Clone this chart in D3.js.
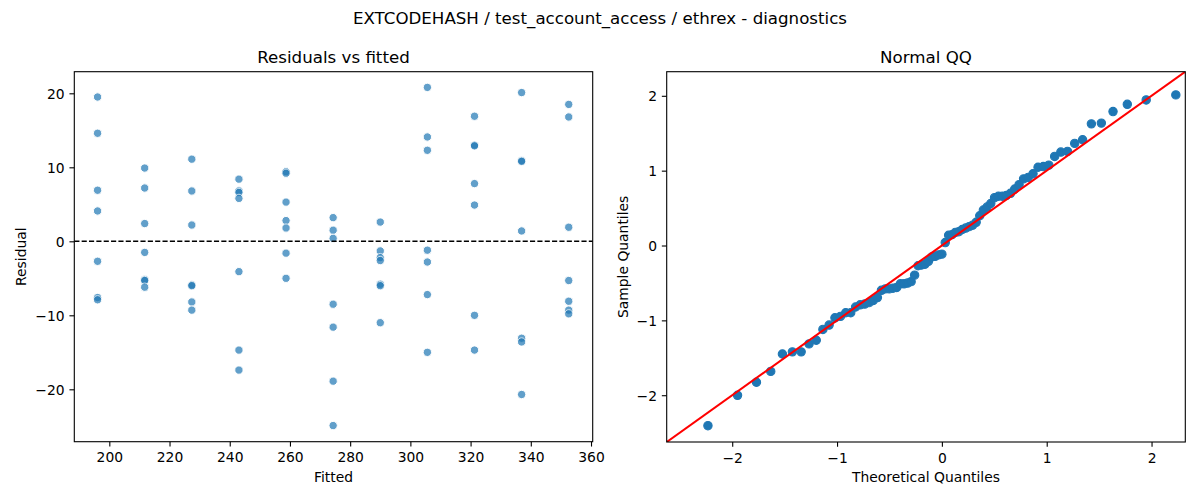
<!DOCTYPE html>
<html>
<head>
<meta charset="utf-8">
<script src="https://cdn.jsdelivr.net/npm/d3@7"></script>
<style>
  html, body { margin: 0; padding: 0; background: #fff; }
  svg { display: block; font-family: "DejaVu Sans", sans-serif; }
</style>
</head>
<body>
<svg id="chart" width="1200" height="500"></svg>
<script>
// ---------------- DATA ----------------
const suptitle = "EXTCODEHASH / test_account_access / ethrex - diagnostics";
const fittedLevels = [196.1, 211.75, 227.4, 243.05, 258.7, 274.35, 290.0, 305.65, 321.3, 336.95, 352.6];
const residualsByLevel = [
  [19.5, 14.6, 6.9, 4.1, -2.7, -7.6, -7.9],
  [9.9, 7.2, 2.4, -1.5, -5.2, -5.3, -6.2],
  [11.1, 6.8, 2.2, -5.9, -6.0, -8.2, -9.3],
  [8.4, 6.8, 6.6, 5.8, -4.1, -14.7, -17.4],
  [9.4, 9.2, 5.3, 2.8, 1.8, -1.6, -5.0],
  [3.2, 1.5, 0.4, -8.5, -11.6, -18.9, -24.9],
  [2.6, -1.3, -2.2, -2.6, -5.8, -6.0, -11.0],
  [20.8, 14.1, 12.3, -1.2, -2.8, -7.2, -15.0],
  [16.9, 13.0, 12.9, 7.8, 4.9, -10.0, -14.7],
  [20.1, 10.9, 10.8, 1.4, -13.1, -13.6, -20.7],
  [18.5, 16.8, 1.9, -5.3, -8.1, -9.3, -9.8]
];
const residXTicks = [200, 220, 240, 260, 280, 300, 320, 340, 360];
const residYTicks = [-20, -10, 0, 10, 20];
const qqTicks = [-2, -1, 0, 1, 2];

// ---------------- LAYOUT ----------------
const svg = d3.select("#chart");
const left = {x0: 74.3, x1: 592.7, y0: 71.7, y1: 441.7};
const right = {x0: 666.7, x1: 1185.3, y0: 71.7, y1: 442.0};
const tickFont = 13.89, titleFont = 16.67;
const blue = "#1f77b4";

svg.append("text").attr("x", 600).attr("y", 24).attr("text-anchor", "middle")
  .attr("font-size", titleFont).text(suptitle);

function drawAxes(g, box, xs, ys, xTicks, yTicks, fmt) {
  const xa = d3.axisBottom(xs).tickValues(xTicks).tickSize(4.86).tickPadding(4.86).tickFormat(fmt);
  const ya = d3.axisLeft(ys).tickValues(yTicks).tickSize(4.86).tickPadding(4.86).tickFormat(fmt);
  const gx = g.append("g").attr("transform", `translate(0,${box.y1})`).call(xa);
  const gy = g.append("g").attr("transform", `translate(${box.x0},0)`).call(ya);
  [gx, gy].forEach(a => {
    a.select(".domain").remove();
    a.selectAll("line").attr("stroke", "#000").attr("stroke-width", 1.1);
    a.selectAll("text").attr("font-size", tickFont).attr("fill", "#000")
      .attr("font-family", "DejaVu Sans, sans-serif");
  });
  gx.selectAll("text").attr("dy", null).attr("y", 20.6);
  gy.selectAll("text").attr("dy", "0.36em");
}

function frame(g, box) {
  g.append("rect").attr("x", box.x0).attr("y", box.y0)
    .attr("width", box.x1 - box.x0).attr("height", box.y1 - box.y0)
    .attr("fill", "none").attr("stroke", "#000").attr("stroke-width", 1.1);
}

// ---------------- LEFT: Residuals vs fitted ----------------
const gl = svg.append("g");
const xL = d3.scaleLinear().domain([188.37, 360.56]).range([left.x0, left.x1]);
const yL = d3.scaleLinear().domain([-27.08, 22.92]).range([left.y1, left.y0]);

const residPoints = [];
fittedLevels.forEach((f, i) => residualsByLevel[i].forEach(r => residPoints.push({f, r})));

gl.append("clipPath").attr("id", "clipL").append("rect")
  .attr("x", left.x0).attr("y", left.y0).attr("width", left.x1 - left.x0).attr("height", left.y1 - left.y0);

gl.append("g").attr("clip-path", "url(#clipL)").selectAll("circle").data(residPoints).join("circle")
  .attr("cx", d => xL(d.f)).attr("cy", d => yL(d.r)).attr("r", 4.17)
  .attr("fill", blue).attr("stroke", "#fff").attr("stroke-width", 1.0).attr("opacity", 0.7);

gl.append("line").attr("x1", left.x0).attr("x2", left.x1)
  .attr("y1", yL(0)).attr("y2", yL(0))
  .attr("stroke", "#000").attr("stroke-width", 1.39).attr("stroke-dasharray", "5.13,2.22");

drawAxes(gl, left, xL, yL, residXTicks, residYTicks, d3.format("d"));
frame(gl, left);

gl.append("text").attr("x", (left.x0 + left.x1) / 2).attr("y", 63.4).attr("text-anchor", "middle")
  .attr("font-size", titleFont).text("Residuals vs fitted");
gl.append("text").attr("x", (left.x0 + left.x1) / 2).attr("y", 482).attr("text-anchor", "middle")
  .attr("font-size", tickFont).text("Fitted");
gl.append("text").attr("transform", `translate(26.3,${(left.y0 + left.y1) / 2}) rotate(-90)`)
  .attr("text-anchor", "middle").attr("font-size", tickFont).text("Residual");

// ---------------- RIGHT: Normal QQ ----------------
// inverse normal CDF (Acklam)
function normInv(p) {
  const a = [-3.969683028665376e+01, 2.209460984245205e+02, -2.759285104469687e+02, 1.383577518672690e+02, -3.066479806614716e+01, 2.506628277459239e+00];
  const b = [-5.447609879822406e+01, 1.615858368580409e+02, -1.556989798598866e+02, 6.680131188771972e+01, -1.328068155288572e+01];
  const c = [-7.784894002430293e-03, -3.223964580411365e-01, -2.400758277161838e+00, -2.549732539343734e+00, 4.374664141464968e+00, 2.938163982698783e+00];
  const d = [7.784695709041462e-03, 3.224671290700398e-01, 2.445134137142996e+00, 3.754408661907416e+00];
  const pl = 0.02425, ph = 1 - pl;
  let q, r;
  if (p < pl) {
    q = Math.sqrt(-2 * Math.log(p));
    return (((((c[0]*q+c[1])*q+c[2])*q+c[3])*q+c[4])*q+c[5]) / ((((d[0]*q+d[1])*q+d[2])*q+d[3])*q+1);
  } else if (p <= ph) {
    q = p - 0.5; r = q * q;
    return (((((a[0]*r+a[1])*r+a[2])*r+a[3])*r+a[4])*r+a[5])*q / (((((b[0]*r+b[1])*r+b[2])*r+b[3])*r+b[4])*r+1);
  } else {
    q = Math.sqrt(-2 * Math.log(1 - p));
    return -(((((c[0]*q+c[1])*q+c[2])*q+c[3])*q+c[4])*q+c[5]) / ((((d[0]*q+d[1])*q+d[2])*q+d[3])*q+1);
  }
}

const allResid = residPoints.map(d => d.r).sort((a, b) => a - b);
const n = allResid.length;
const mu = d3.mean(allResid);
const sd = Math.sqrt(d3.mean(allResid, v => (v - mu) * (v - mu)));
const qqPoints = allResid.map((v, i) => ({t: normInv((i + 1) / (n + 1)), s: (v - mu) / sd}));

const gr = svg.append("g");
const qqLim = [-2.625, 2.322];
const xR = d3.scaleLinear().domain(qqLim).range([right.x0, right.x1]);
const yR = d3.scaleLinear().domain(qqLim).range([right.y1, right.y0]);

gr.append("clipPath").attr("id", "clipR").append("rect")
  .attr("x", right.x0).attr("y", right.y0).attr("width", right.x1 - right.x0).attr("height", right.y1 - right.y0);
const inner = gr.append("g").attr("clip-path", "url(#clipR)");

inner.selectAll("circle").data(qqPoints).join("circle")
  .attr("cx", d => xR(d.t)).attr("cy", d => yR(d.s)).attr("r", 4.17)
  .attr("fill", blue).attr("stroke", blue).attr("stroke-width", 1.1);

inner.append("line")
  .attr("x1", xR(qqLim[0])).attr("y1", yR(qqLim[0]))
  .attr("x2", xR(qqLim[1])).attr("y2", yR(qqLim[1]))
  .attr("stroke", "#ff0000").attr("stroke-width", 2.08);

drawAxes(gr, right, xR, yR, qqTicks, qqTicks, d3.format("d"));
frame(gr, right);

gr.append("text").attr("x", (right.x0 + right.x1) / 2).attr("y", 63.4).attr("text-anchor", "middle")
  .attr("font-size", titleFont).text("Normal QQ");
gr.append("text").attr("x", (right.x0 + right.x1) / 2).attr("y", 482).attr("text-anchor", "middle")
  .attr("font-size", tickFont).text("Theoretical Quantiles");
gr.append("text").attr("transform", `translate(627.5,${(right.y0 + right.y1) / 2}) rotate(-90)`)
  .attr("text-anchor", "middle").attr("font-size", tickFont).text("Sample Quantiles");
</script>
</body>
</html>
